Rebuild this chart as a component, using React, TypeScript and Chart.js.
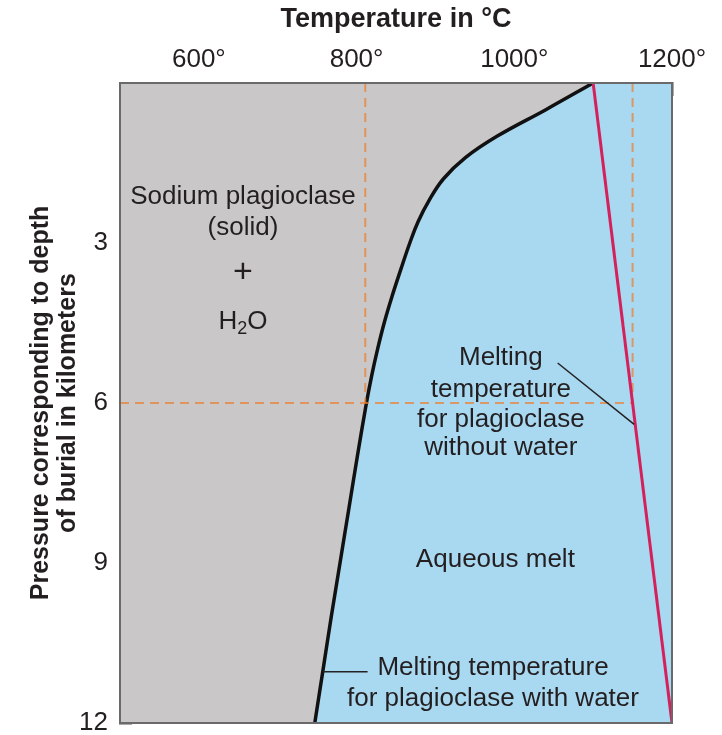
import React, { useEffect, useRef } from 'react';
import { Chart, registerables } from 'chart.js';

Chart.register(...registerables);

// ---- data ----
// melting curve of sodium plagioclase with water: depth (km) vs temperature (°C)
const wetDepthKm = [0, 0.5, 1.0, 1.4, 1.8, 2.2, 2.6, 3.0, 3.5, 4.0, 4.5, 5.0, 5.5, 6.0, 7.0, 8.0, 9.0, 10.0, 11.0, 12.0];
const wetTempC = [1100, 1040, 978, 938, 910, 892, 878, 867.5, 856, 845, 835, 826.5, 819, 812.5, 801, 790, 779, 768, 757.5, 747];
// melting curve without water
const dryDepthKm = [0, 12];
const dryTempC = [1100, 1200];
// dashed reference lines at 6 km depth
const refDepthKm = 6;
const refWetTempC = 811;
const refDryTempC = 1150;
// leader lines for the callouts
const leaderDryTempC = [1055, 1152];
const leaderDryDepthKm = [5.25, 6.4];
const leaderWetTempC = [757, 814];
const leaderWetDepthKm = [11.04, 11.04];
// axes
const tempMin = 500;
const tempMax = 1200;
const tempLabeled = [600, 800, 1000, 1200];
const depthMin = 0;
const depthMax = 12;
const depthLabeled = [3, 6, 9, 12];

// text annotations (anchored in data coordinates)
const solidLabel = ['Sodium plagioclase', '(solid)'];
const solidLabelTemp = 656;
const solidLabelDepth = [2.14, 2.72];
const plusDepth = 3.56;
const waterDepth = 4.48;
const dryLabel = ['Melting', 'temperature', 'for plagioclase', 'without water'];
const dryLabelTemp = 983;
const dryLabelDepth = [5.16, 5.76, 6.32, 6.84];
const meltLabel = 'Aqueous melt';
const meltLabelTemp = 976;
const meltLabelDepth = 8.94;
const wetLabel = ['Melting temperature', 'for plagioclase with water'];
const wetLabelTemp = 973;
const wetLabelDepth = [10.97, 11.55];

const FONT = '"Liberation Sans", Arial, Helvetica, sans-serif';
const GRAY = '#c9c7c8';
const BLUE = '#a9d8f1';
const ORANGE = 'rgba(236, 128, 48, 0.72)';
const TEXT = '#231f20';

const bgPlugin = {
  id: 'plotBg',
  beforeDatasetsDraw(chart: any) {
    const { ctx, chartArea: a } = chart;
    ctx.save();
    ctx.fillStyle = BLUE;
    ctx.fillRect(a.left, a.top, a.right - a.left, a.bottom - a.top);
    ctx.restore();
  },
  afterDraw(chart: any) {
    const { ctx, chartArea: a } = chart;
    ctx.save();
    ctx.strokeStyle = '#6a6a6a';
    ctx.lineWidth = 2;
    ctx.strokeRect(a.left, a.top, a.right - a.left, a.bottom - a.top);
    ctx.restore();
  },
};

const textPlugin = {
  id: 'annotText',
  afterDatasetsDraw(chart: any) {
    const { ctx } = chart;
    const xs = chart.scales.x;
    const ys = chart.scales.y;
    const px = (v: number) => xs.getPixelForValue(v);
    const py = (v: number) => ys.getPixelForValue(v);
    ctx.save();
    ctx.fillStyle = TEXT;
    ctx.textAlign = 'center';
    ctx.textBaseline = 'middle';
    ctx.font = `26px ${FONT}`;
    solidLabel.forEach((t, i) => ctx.fillText(t, px(solidLabelTemp), py(solidLabelDepth[i])));
    dryLabel.forEach((t, i) => ctx.fillText(t, px(dryLabelTemp), py(dryLabelDepth[i])));
    ctx.fillText(meltLabel, px(meltLabelTemp), py(meltLabelDepth));
    wetLabel.forEach((t, i) => ctx.fillText(t, px(wetLabelTemp), py(wetLabelDepth[i])));
    // plus sign
    ctx.font = `34px ${FONT}`;
    ctx.fillText('+', px(solidLabelTemp), py(plusDepth));
    // H2O with subscript
    const big = `26px ${FONT}`;
    const small = `18px ${FONT}`;
    ctx.font = big;
    const wH = ctx.measureText('H').width;
    const wO = ctx.measureText('O').width;
    ctx.font = small;
    const w2 = ctx.measureText('2').width;
    const total = wH + w2 + wO;
    const cx = px(solidLabelTemp);
    const cy = py(waterDepth);
    let x0 = cx - total / 2;
    ctx.textAlign = 'left';
    ctx.font = big;
    ctx.fillText('H', x0, cy);
    x0 += wH;
    ctx.font = small;
    ctx.fillText('2', x0, cy + 7);
    x0 += w2;
    ctx.font = big;
    ctx.fillText('O', x0, cy);
    ctx.restore();
  },
};

export default function App() {
  const ref = useRef<HTMLCanvasElement | null>(null);

  useEffect(() => {
    if (!ref.current) return;
    Chart.defaults.font.family = FONT;
    const pts = (xs: number[], ys: number[]) => xs.map((x, i) => ({ x, y: ys[i] }));
    const dashed = {
      borderColor: ORANGE,
      borderWidth: 2,
      borderDash: [9, 6],
      pointRadius: 0,
      fill: false,
      order: 5,
    };
    const chart = new Chart(ref.current, {
      type: 'line',
      data: {
        datasets: [
          {
            label: 'with water',
            data: pts(wetTempC, wetDepthKm),
            indexAxis: 'y',
            borderColor: '#111',
            borderWidth: 3.5,
            backgroundColor: GRAY,
            fill: { value: tempMin },
            tension: 0.4,
            pointRadius: 0,
            order: 10,
          } as any,
          { ...dashed, label: 'ref wet', data: pts([refWetTempC, refWetTempC], [depthMin, refDepthKm]) },
          { ...dashed, label: 'ref dry', data: pts([refDryTempC, refDryTempC], [depthMin, refDepthKm]) },
          { ...dashed, label: 'ref depth', data: pts([tempMin, refDryTempC], [refDepthKm, refDepthKm]) },
          {
            label: 'without water',
            data: pts(dryTempC, dryDepthKm),
            borderColor: '#d4215c',
            borderWidth: 3,
            pointRadius: 0,
            fill: false,
            order: 2,
          },
          {
            label: 'leader dry',
            data: pts(leaderDryTempC, leaderDryDepthKm),
            borderColor: '#222',
            borderWidth: 1.5,
            pointRadius: 0,
            fill: false,
            order: 1,
          },
          {
            label: 'leader wet',
            data: pts(leaderWetTempC, leaderWetDepthKm),
            borderColor: '#222',
            borderWidth: 1.5,
            pointRadius: 0,
            fill: false,
            order: 1,
          },
        ],
      },
      options: {
        animation: false,
        responsive: true,
        maintainAspectRatio: false,
        layout: { padding: { left: 0, right: 50, top: 0, bottom: 12 } },
        plugins: { legend: { display: false }, tooltip: { enabled: false } },
        scales: {
          x: {
            type: 'linear',
            position: 'top',
            min: tempMin,
            max: tempMax,
            z: 1,
            afterFit: (s: any) => {
              s.height = 83;
              s.paddingLeft = 0;
              s.paddingRight = 0;
            },
            ticks: {
              stepSize: 100,
              autoSkip: false,
              maxRotation: 0,
              padding: 21,
              color: TEXT,
              font: { size: 26, family: FONT },
              callback: (v: any) => (tempLabeled.includes(Number(v)) ? `${v}°` : ''),
            },
            grid: { drawOnChartArea: false, drawTicks: true, tickLength: -13, tickColor: '#555', tickWidth: 2 },
            border: { display: true, color: '#6a6a6a', width: 2 },
            title: {
              display: true,
              text: 'Temperature in °C',
              color: TEXT,
              font: { size: 27, weight: 'bold', family: FONT },
              padding: { top: 3, bottom: 0 },
            },
          },
          y: {
            type: 'linear',
            position: 'left',
            reverse: true,
            min: depthMin,
            max: depthMax,
            z: 1,
            afterFit: (s: any) => {
              s.width = 120;
              s.paddingTop = 0;
              s.paddingBottom = 0;
            },
            ticks: {
              stepSize: 3,
              autoSkip: false,
              padding: 24,
              color: TEXT,
              font: { size: 26, family: FONT },
              callback: (v: any) => (depthLabeled.includes(Number(v)) ? String(v) : ''),
            },
            grid: { drawOnChartArea: false, drawTicks: true, tickLength: -12, tickColor: '#555', tickWidth: 2 },
            border: { display: true, color: '#6a6a6a', width: 2 },
            title: {
              display: true,
              text: ['Pressure corresponding to depth', 'of burial in kilometers'],
              color: TEXT,
              font: { size: 25, weight: 'bold', family: FONT, lineHeight: 1.1 },
              padding: { top: 27, bottom: 0 },
            },
          },
        },
      } as any,
      plugins: [bgPlugin, textPlugin],
    });
    return () => chart.destroy();
  }, []);

  return (
    <div style={{ position: 'absolute', left: 0, top: 0, width: 722, height: 735, background: '#fff' }}>
      <canvas ref={ref} style={{ display: 'block' }} />
    </div>
  );
}
